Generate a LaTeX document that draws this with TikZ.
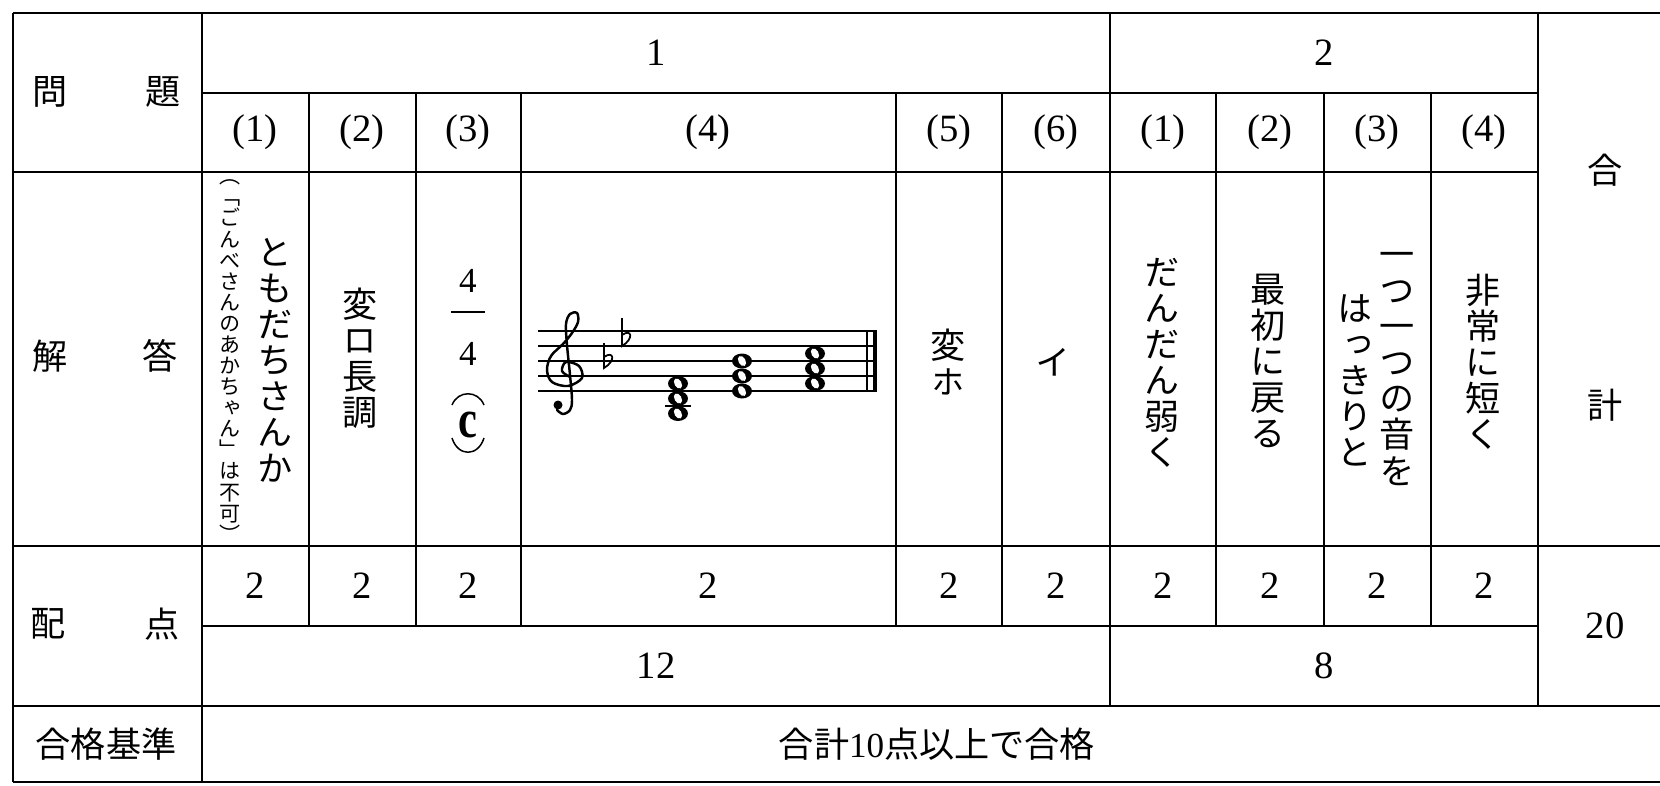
\documentclass[tikz,border=0pt]{standalone}
\usepackage{fontspec}
\usepackage{graphicx}
\setmainfont{Liberation Serif}
\newfontfamily\cjk{Noto Sans CJK JP}
\newfontfamily\cjkv[RawFeature=+vert]{Noto Sans CJK JP}

\newcommand\wholenote[2]{%
  \fill (#1,#2) ellipse [x radius=10, y radius=7.5];
  \fill[white, rotate around={30:(#1,#2)}] (#1,#2) ellipse [x radius=3.5, y radius=5.5];}

\begin{document}
\begin{tikzpicture}[x=0.02cm, y=-0.02cm, line width=0.85pt,
  kanji/.style={font=\cjk\fontsize{20}{20}\selectfont, inner sep=0pt},
  num/.style={font=\fontsize{22}{22}\selectfont, inner sep=0pt},
  tate/.style={align=center, inner sep=0pt, font=\cjkv\fontsize{20}{20.5}\selectfont},
  tatesmall/.style={tate, font=\cjkv\fontsize{12}{12}\selectfont}]
  \useasboundingbox (0,0) rectangle (1660,785);
  \fill[white] (0,0) rectangle (1660,785);
  \clip (0,0) rectangle (1660,785);

  % table rules
  \draw (13,13) -- (1672,13);
  \draw (13,172) -- (1538,172);
  \foreach \y in {546,706,782} \draw (13,\y) -- (1672,\y);
  \foreach \y in {93,626} \draw (202,\y) -- (1538,\y);
  \foreach \x in {13,202} \draw (\x,13) -- (\x,782);
  \foreach \x in {1110,1538} \draw (\x,13) -- (\x,706);
  \foreach \x in {309,416,521,896,1002,1216,1324,1431} \draw (\x,93) -- (\x,626);

  % left column
  \node[kanji] (mon) at (50,92) {問};
  \node[kanji] (dai) at (163,92) {題};
  \node[kanji] (kai) at (50,356) {解};
  \node[kanji] (tou) at (160,356) {答};
  \node[kanji] (hai) at (48,624) {配};
  \node[kanji] (ten) at (162,624) {点};
  \node[kanji] (kijun) at (106,744) {合格基準};

  % headers and points
  \node[num] (h1) at (656,53) {1};
  \node[num] (h2) at (1324,53) {2};
  \foreach \x/\lab [count=\i] in {255/(1),362/(2),468/(3),708/(4),949/(5),
      1056/(6),1163/(1),1270/(2),1377/(3),1484/(4)} {
    \node[num] (sub\i) at (\x,132) {\lab};
    \node[num] (pt\i) at (\x,586) {2};
  }
  \node[num] (sum1) at (656,666) {12};
  \node[num] (sum2) at (1324,666) {8};
  \node[kanji] (go) at (1605,170) {合};
  \node[kanji] (kei) at (1605,405) {計};
  \node[num] (total) at (1605,626) {20};
  \node[kanji] (pass) at (937,744) {合計{\rmfamily 10}点以上で合格};

  % answers
  \node[tate] (a1) at (275,360) {と\\も\\だ\\ち\\さ\\ん\\か};
  \node[tatesmall] (a1note) at (230,361)
    {（\\「\\ご\\ん\\べ\\さ\\ん\\の\\あ\\か\\ち\\ゃ\\ん\\」\\は\\不\\可\\）};
  \node[tate] (a2) at (360,358) {変\\ロ\\長\\調};
  \node[tate] (a5) at (948,362) {変\\{\fontsize{19}{20.5}\selectfont ホ}};
  \node[tate] (a6) at (1053,362) {イ};
  \node[tate] (b1) at (1162,363) {だ\\ん\\だ\\ん\\弱\\く};
  \node[tate] (b2) at (1268,361) {最\\初\\に\\戻\\る};
  \node[tate] (b3) at (1397,369) {一\\つ\\一\\つ\\の\\音\\を};
  \node[tate] (b3b) at (1355,380) {は\\っ\\き\\り\\と};
  \node[tate] (b4) at (1483,362) {非\\常\\に\\短\\く};

  % time signature
  \node[num, font=\fontsize{20}{20}\selectfont] (ts1) at (468,281) {4};
  \node[num, font=\fontsize{20}{20}\selectfont] (ts2) at (468,354) {4};
  \draw[line width=0.6pt] (451,312) -- (485,312);
  \draw (452,405) .. controls (458,390) and (478,390) .. (484,405);
  \node[inner sep=0pt] (ct) at (468,425) {\scalebox{1.1}[1.4]{\fontsize{22}{22}\selectfont\bfseries c}};
  \draw (452,438) .. controls (458,457) and (478,457) .. (484,438);

  % staff
  \foreach \y in {331,346,...,391} \draw[line width=0.6pt] (538,\y) -- (877,\y);
  \draw[line width=0.8pt] (867,331) -- (867,391);
  \draw[line width=2.6pt] (875,331) -- (875,391);
  \draw[line width=1.4pt, line cap=round, line join=round] plot[smooth, tension=0.55]
    coordinates {(570,377) (562,371) (566,362) (579,366) (582,378) (568,386)
      (552,382) (547,370) (551,356) (563,344) (572,333) (578,322) (577,313)
      (570,314) (566,324) (567,345) (570,375) (572,400) (570,410) (563,414) (557,410)};
  \fill (558,405) circle [radius=4.5];
  % flats
  \draw[line width=1pt] (604,343) -- (604,368) .. controls (616,361) and (614,350) .. (604,357);
  \draw[line width=1pt] (622,318) -- (622,346) .. controls (634,339) and (632,328) .. (622,335);
  % chords
  \draw[line width=0.6pt] (665,406) -- (691,406);
  \foreach \x/\y in {678/383.5,678/398.5,678/413.5,742/361,742/376,742/391,
      815/353.5,815/368.5,815/383.5}
    \wholenote{\x}{\y};
\end{tikzpicture}
\end{document}
